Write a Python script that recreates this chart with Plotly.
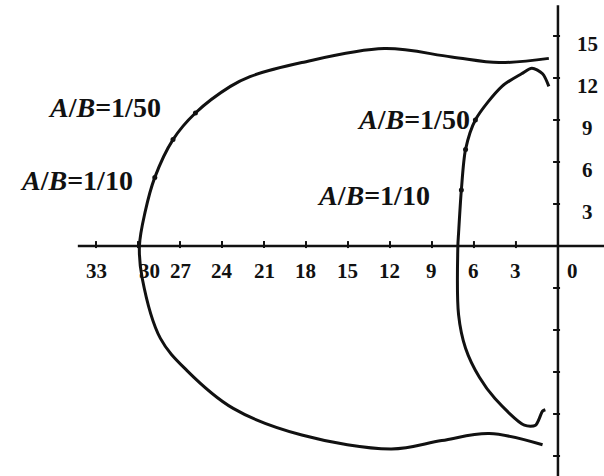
import plotly.graph_objects as go

# outer locus (x = magnitude along the negative real axis, y = imaginary part)
outer_x = [0.65, 4.2, 7.6, 12.4, 18.3, 22.0, 23.4, 25.9, 27.5, 28.8, 29.5, 29.9,
           29.7, 28.4, 26.5, 23.2, 18.3, 11.9, 8.3, 4.9, 1.1]
outer_y = [13.4, 13.1, 13.5, 14.1, 13.1, 12.1, 11.4, 9.5, 7.6, 4.9, 2.4, 0.0,
           -2.3, -6.6, -8.9, -11.6, -13.5, -14.5, -13.9, -13.4, -14.2]

# inner locus
inner_x = [0.65, 1.1, 1.86, 2.6, 4.0, 5.9, 6.6, 6.9, 7.1, 7.15,
           7.1, 6.6, 5.6, 4.5, 2.4, 1.6, 1.1, 0.9]
inner_y = [11.4, 12.3, 12.7, 12.3, 11.4, 9.0, 6.9, 4.0, 0.9, 0.0,
           -4.9, -7.3, -9.4, -10.9, -12.8, -12.8, -11.8, -11.7]

# A/B marks on the curves
mark_x = [25.9, 27.5, 28.8, 5.9, 6.6, 6.9]
mark_y = [9.5, 7.6, 4.9, 9.0, 6.9, 4.0]

x_ticks = [33, 30, 27, 24, 21, 18, 15, 12, 9, 6, 3, 0]
y_ticks = [15, 12, 9, 6, 3]
y_ticks_low = [-3, -6, -9, -12, -15]

labels = ["<i>A</i>/<i>B</i>=1/50", "<i>A</i>/<i>B</i>=1/10",
          "<i>A</i>/<i>B</i>=1/50", "<i>A</i>/<i>B</i>=1/10"]
label_x = [32.4, 34.4, 10.3, 13.2]
label_y = [9.9, 4.7, 9.0, 3.6]

serif = "Liberation Serif"
ink = "#111111"

fig = go.Figure()

# axes drawn at the origin
fig.add_trace(go.Scatter(x=[34.3, -3.3], y=[0, 0], mode="lines",
                         line=dict(color=ink, width=2.5), hoverinfo="skip"))
fig.add_trace(go.Scatter(x=[0, 0], y=[17.2, -16.5], mode="lines",
                         line=dict(color=ink, width=2.5), hoverinfo="skip"))

# tick marks
fig.add_trace(go.Scatter(x=[t for t in x_ticks if t > 0], y=[0.1] * (len(x_ticks) - 1),
                         mode="markers", marker=dict(symbol="line-ns", size=5,
                                                     line=dict(color=ink, width=2)),
                         hoverinfo="skip"))
fig.add_trace(go.Scatter(x=[0.1] * 10, y=y_ticks + y_ticks_low, mode="markers",
                         marker=dict(symbol="line-ew", size=5,
                                     line=dict(color=ink, width=2)),
                         hoverinfo="skip"))

fig.add_trace(go.Scatter(x=outer_x, y=outer_y, mode="lines",
                         line=dict(color=ink, width=3, shape="spline", smoothing=1.0)))
fig.add_trace(go.Scatter(x=inner_x, y=inner_y, mode="lines",
                         line=dict(color=ink, width=3, shape="spline", smoothing=0.8)))
fig.add_trace(go.Scatter(x=mark_x, y=mark_y, mode="markers",
                         marker=dict(color=ink, size=5, symbol="circle")))

# tick labels
x_shift = {30: -0.8, 0: -1.07}
for t in x_ticks:
    fig.add_annotation(x=t + x_shift.get(t, 0), y=-1.8, text=str(t), showarrow=False,
                       font=dict(family=serif, size=21, color=ink, weight="bold"))
for t in y_ticks:
    fig.add_annotation(x=-2.1, y=t - 0.6, text=str(t), showarrow=False,
                       font=dict(family=serif, size=21, color=ink, weight="bold"))

for txt, lx, ly in zip(labels, label_x, label_y):
    fig.add_annotation(x=lx, y=ly, text=txt, showarrow=False,
                       font=dict(family=serif, size=28, color=ink, weight="bold"))

fig.update_xaxes(range=[39.86, -3.29], visible=False)
fig.update_yaxes(range=[-16.43, 17.57], visible=False)
fig.update_layout(width=604, height=476, margin=dict(l=0, r=0, t=0, b=0),
                  plot_bgcolor="white", paper_bgcolor="white", showlegend=False)

# the page's default body margin would shift the figure by 8px
fig.write_html("out.html", config={"displayModeBar": False},
               post_script="document.body.style.margin='0';")
